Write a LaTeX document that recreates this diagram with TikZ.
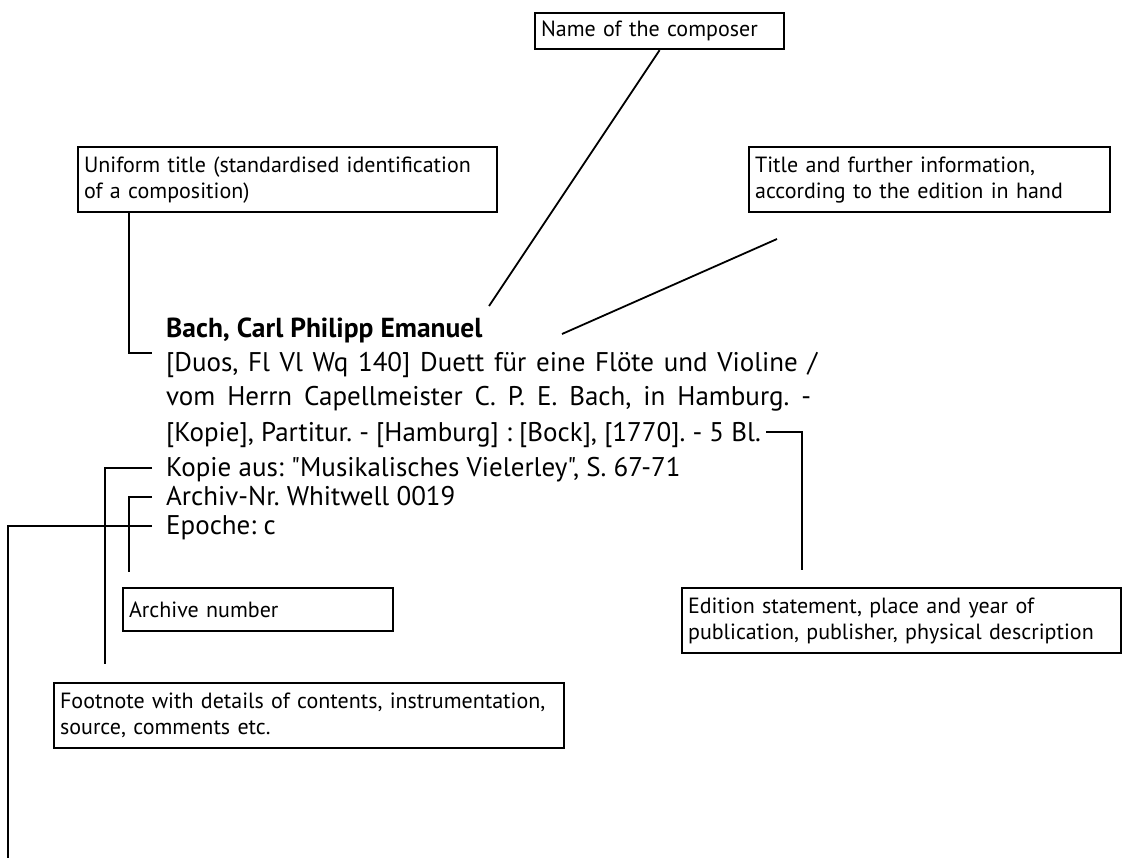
\documentclass[tikz,border=0pt]{standalone}
\usepackage{fontspec}
\newfontfamily\ptsans{PT Sans}
\frenchspacing
\begin{document}
\begin{tikzpicture}[x=1pt,y=-1pt,
  box/.style={draw, line width=2.2pt, inner xsep=6pt, inner ysep=0pt, align=left,
    anchor=north west, font=\ptsans\fontsize{22}{26}\selectfont},
  mainline/.style={anchor=base west, inner sep=0pt, font=\ptsans\fontsize{27}{31}\selectfont},
  conn/.style={line width=1.8pt}]
\useasboundingbox (0,0) rectangle (1135,859);

% boxes
\node[box, text width=237pt, minimum height=36pt] (comp) at (534,12) {Name of the composer};
\node[box, text width=407pt, minimum height=65pt] (uni) at (77,146) {Uniform title (standardised identification\\of a composition)};
\node[box, text width=349pt, minimum height=65pt] (tit) at (748,146) {Title and further information,\\according to the edition in hand};
\node[box, text width=258pt, minimum height=43pt] (arch) at (122,587) {Archive number};
\node[box, text width=427pt, minimum height=65pt] (edit) at (681,587) {Edition statement, place and year of\\publication, publisher, physical description};
\node[box, text width=498pt, minimum height=65pt] (foot) at (53,682) {Footnote with details of contents, instrumentation,\\source, comments etc.};

% catalogue entry
\node[mainline, font=\ptsans\fontsize{27.5}{31}\selectfont\bfseries] (l1) at (166,337) {Bach, Carl Philipp Emanuel};
\node[mainline] (l2) at (166,371) {\makebox[651pt][s]{[Duos, Fl Vl Wq 140] Duett für eine Flöte und Violine /}};
\node[mainline] (l3) at (166,405) {\makebox[645pt][s]{vom Herrn Capellmeister C. P. E. Bach, in Hamburg. -}};
\node[mainline] (l4) at (166,441) {[Kopie], Partitur. - [Hamburg] : [Bock], [1770]. - 5 Bl.};
\node[mainline] (l5) at (166,476) {Kopie aus: "Musikalisches Vielerley", S. 67-71};
\node[mainline] (l6) at (166,505) {Archiv-Nr. Whitwell 0019};
\node[mainline] (l7) at (166,534) {Epoche: c};

% connector end points
\coordinate (compend) at (489,306);
\coordinate (tita) at (777,239);
\coordinate (titb) at (562,334);
\coordinate (uniend) at (152,353);
\coordinate (bla) at ([xshift=5pt]l4.east |- 0,432);
\coordinate (blb) at (802,570);
\coordinate (kopa) at (152,468);
\coordinate (kopb) at (105,664);
\coordinate (arca) at (152,497);
\coordinate (arcb) at (129,572);
\coordinate (epoa) at (152,526);
\coordinate (epob) at (8,858);

% connectors
\draw[conn] (comp.south) -- (compend);
\draw[conn] (tita) -- (titb);
\draw[conn] (uni.south -| arcb) |- (uniend);
\draw[conn] (bla) -| (blb);
\draw[conn] (kopa) -| (kopb);
\draw[conn] (arca) -| (arcb);
\draw[conn] (epoa) -| (epob);
\end{tikzpicture}
\end{document}
